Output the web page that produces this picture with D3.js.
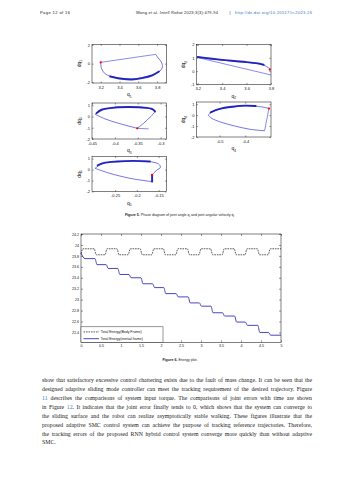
<!DOCTYPE html>
<html lang="en">
<head>
<meta charset="utf-8">
<script src="https://d3js.org/d3.v7.min.js"></script>
<style>
  body { margin: 0; background: #fff; }
  svg text { font-family: "Liberation Sans", Arial, sans-serif; }
  svg text.serif { font-family: "Liberation Serif", "DejaVu Serif", serif; }
</style>
</head>
<body>
<svg id="page" width="353" height="480"></svg>
<script>
// ---- Figure 5 data: phase trajectories (q, dq) ----
var q1Curve  = [[3.2,0.14],[3.207,-0.5],[3.243,-1.05],[3.315,-1.4],[3.42,-1.58],[3.53,-1.65],[3.636,-1.5],[3.743,-1.22],[3.83,-0.8],[3.857,-0.33],[3.843,0.2],[3.81,0.63],[3.785,1.0]];
var q1Return = [[3.785,1.0],[3.2,0.14]];
var q1Band   = [[3.3,-1.38],[3.42,-1.62],[3.53,-1.7],[3.64,-1.55],[3.75,-1.25],[3.82,-0.85]];
var q1Start  = [3.2,0.14];

var q2Curve  = [[3.2,1.05],[3.3,0.93],[3.4,0.83],[3.5,0.74],[3.6,0.66],[3.68,0.57],[3.74,0.45],[3.78,0.25],[3.82,0.0]];
var q2Return = [[3.82,-0.33],[3.2,1.02]];
var q2Band   = [[3.2,1.06],[3.3,0.95],[3.4,0.85],[3.5,0.76],[3.6,0.68],[3.68,0.6],[3.74,0.48]];
var q2Start  = [3.79,0.12];

var q3Curve  = [[-0.443,0.2],[-0.429,0.58],[-0.4,0.78],[-0.37,0.82],[-0.34,0.78],[-0.318,0.64],[-0.313,0.43],[-0.322,-0.02],[-0.337,-0.6],[-0.351,-1.05]];
var q3Return = [[-0.351,-1.05],[-0.392,-0.6],[-0.421,-0.22],[-0.443,0.2]];
var q3Tail   = [[-0.351,-1.05],[-0.326,-1.1]];
var q3Band   = [[-0.44,0.3],[-0.429,0.6],[-0.4,0.8],[-0.37,0.84],[-0.34,0.8],[-0.318,0.66],[-0.312,0.45]];
var q3Start  = [-0.351,-1.05];

var q4Curve  = [[-0.545,0.0],[-0.53,0.3],[-0.5,0.55],[-0.45,0.75],[-0.4,0.85],[-0.35,0.8],[-0.32,0.68],[-0.308,0.6]];
var q4Drop   = [[-0.308,0.6],[-0.325,-1.43]];
var q4Return = [[-0.325,-1.43],[-0.38,-1.3],[-0.44,-1.0],[-0.5,-0.6],[-0.53,-0.3],[-0.545,0.0]];
var q4Band   = [[-0.535,0.25],[-0.5,0.57],[-0.45,0.77],[-0.4,0.87],[-0.36,0.84]];
var q4Start  = [-0.308,0.6];

var q5Curve  = [[-0.296,0.12],[-0.277,0.58],[-0.246,0.72],[-0.208,0.79],[-0.169,0.72],[-0.15,0.51],[-0.146,0.21],[-0.154,-0.04],[-0.162,-0.34],[-0.165,-0.49]];
var q5Drop   = [[-0.165,-0.49],[-0.165,-1.1]];
var q5Return = [[-0.165,-1.1],[-0.215,-0.8],[-0.262,-0.34],[-0.296,0.12]];
var q5Band   = [[-0.29,0.4],[-0.277,0.6],[-0.246,0.74],[-0.208,0.8],[-0.17,0.74]];
var q5Start  = [-0.165,-0.49];

// ---- Figure 6 data: total energy ----
var energyXTicks = [0,0.5,1,1.5,2,2.5,3,3.5,4,4.5,5];
var energyYTicks = [22.4,22.6,22.8,23,23.2,23.4,23.6,23.8,24,24.2];
var bodyT = [0,0.05,0.33,0.38,0.6,0.65,0.9,0.95,1.18,1.23,1.48,1.53,1.77,1.82,2.06,2.11,2.37,2.42,2.66,2.71,2.95,3.0,3.24,3.29,3.53,3.58,3.83,3.88,4.1,4.15,4.41,4.46,4.68,4.73,5];
var bodyE = [23.84,23.93,23.93,23.82,23.82,23.93,23.93,23.82,23.82,23.93,23.93,23.82,23.82,23.93,23.93,23.82,23.82,23.93,23.93,23.82,23.82,23.93,23.93,23.82,23.82,23.93,23.93,23.82,23.82,23.93,23.93,23.82,23.82,23.93,23.93];
var inertialT = [0,0.1,0.35,0.4,0.63,0.68,0.92,0.97,1.2,1.25,1.5,1.55,1.79,1.84,2.07,2.12,2.38,2.43,2.68,2.73,2.96,3.01,3.25,3.3,3.54,3.59,3.84,3.89,4.11,4.16,4.42,4.47,4.69,4.74,5];
var inertialE = [23.85,23.75,23.75,23.64,23.64,23.57,23.57,23.46,23.46,23.4,23.4,23.29,23.29,23.22,23.22,23.11,23.11,23.05,23.05,22.94,22.94,22.88,22.88,22.76,22.76,22.7,22.7,22.59,22.59,22.53,22.53,22.4,22.4,22.35,22.35];
var legendLabels = ["Total Energy(Body Frame)", "Total Energy(inertial frame)"];

// ---- page text ----
var paragraph = [
  ["show that satisfactory excessive control chattering exists due to the fault of mass change. It can be seen that the"],
  ["designed adaptive sliding mode controller can meet the tracking requirement of the desired trajectory. Figure"],
  ["", "11", " describes the comparisons of system input torque. The comparisons of joint errors with time are shown"],
  ["in Figure ", "12", ". It indicates that the joint error finally tends to 0, which shows that the system can converge to"],
  ["the sliding surface and the robot can realize asymptotically stable walking. These figures illustrate that the"],
  ["proposed adaptive SMC control system can achieve the purpose of tracking reference trajectories. Therefore,"],
  ["the tracking errors of the proposed RNN hybrid control system converge more quickly than without adaptive"],
  ["SMC."]
];

var svg = d3.select("#page");
var blue = "#2a2ad8", darkBlue = "#1414b8";

// header
svg.append("text").attr("x", 40).attr("y", 13.6).attr("font-size", 4.1)
  .attr("textLength", 30).attr("fill", "#222").text("Page 12 of 16");
var hdr = svg.append("text").attr("x", 136).attr("y", 13.6).attr("font-size", 4)
  .attr("textLength", 82).attr("fill", "#222");
hdr.append("tspan").text("Wang et al. ");
hdr.append("tspan").attr("font-style", "italic").text("Intell Robot");
hdr.append("tspan").text(" 2023;3(3):479-94");
svg.append("text").attr("x", 229.5).attr("y", 13.6).attr("font-size", 4).attr("fill", "#222").text("|");
svg.append("text").attr("x", 235).attr("y", 13.6).attr("font-size", 4.1)
  .attr("textLength", 77).attr("fill", "#3a78c0").text("http://dx.doi.org/10.20517/ir.2023.26");

// ---- phase plots ----
var plotId = 0;
function phasePlot(b, xd, yd, xt, yt, sub, thin, straight, band, start) {
  var x = d3.scaleLinear().domain(xd).range([b[0], b[1]]);
  var y = d3.scaleLinear().domain(yd).range([b[3], b[2]]);
  var g = svg.append("g");
  var id = "clip" + (plotId++);
  g.append("clipPath").attr("id", id).append("rect")
    .attr("x", b[0]).attr("y", b[2]).attr("width", b[1] - b[0]).attr("height", b[3] - b[2]);

  var fmt = function(d) { return String(d); };
  g.append("g").attr("transform", "translate(0," + b[3] + ")")
    .call(d3.axisBottom(x).tickValues(xt).tickFormat(fmt).tickSizeInner(-1.6).tickSizeOuter(0).tickPadding(2.9));
  g.append("g").attr("transform", "translate(0," + b[2] + ")")
    .call(d3.axisTop(x).tickValues(xt).tickFormat("").tickSizeInner(-1.6).tickSizeOuter(0));
  g.append("g").attr("transform", "translate(" + b[0] + ",0)")
    .call(d3.axisLeft(y).tickValues(yt).tickFormat(fmt).tickSizeInner(-1.6).tickSizeOuter(0).tickPadding(2));
  g.append("g").attr("transform", "translate(" + b[1] + ",0)")
    .call(d3.axisRight(y).tickValues(yt).tickFormat("").tickSizeInner(-1.6).tickSizeOuter(0));
  g.selectAll(".domain").remove();
  g.selectAll(".tick line").attr("stroke", "#000").attr("stroke-width", 0.4);
  g.selectAll(".tick text").attr("font-size", 4).attr("fill", "#111")
    .style("font-family", "Liberation Sans, Arial, sans-serif");

  g.append("rect").attr("x", b[0]).attr("y", b[2]).attr("width", b[1] - b[0]).attr("height", b[3] - b[2])
    .attr("fill", "none").attr("stroke", "#000").attr("stroke-width", 0.5);

  var smooth = d3.line().x(function(d) { return x(d[0]); }).y(function(d) { return y(d[1]); })
    .curve(d3.curveCatmullRom.alpha(0.5));
  var lin = d3.line().x(function(d) { return x(d[0]); }).y(function(d) { return y(d[1]); });
  var c = g.append("g").attr("clip-path", "url(#" + id + ")").attr("fill", "none");
  thin.forEach(function(p) { c.append("path").attr("d", smooth(p)).attr("stroke", blue).attr("stroke-width", 0.65); });
  straight.forEach(function(p) { c.append("path").attr("d", lin(p)).attr("stroke", blue).attr("stroke-width", 0.55); });
  band.forEach(function(p) {
    c.append("path").attr("d", smooth(p)).attr("stroke", darkBlue).attr("stroke-width", 1.9)
      .attr("stroke-linecap", "round").attr("opacity", 0.9);
  });
  c.append("circle").attr("cx", x(start[0])).attr("cy", y(start[1])).attr("r", 1.15).attr("fill", "#f00");

  // labels
  var xl = g.append("text").attr("x", (b[0] + b[1]) / 2).attr("y", b[3] + 13.4)
    .attr("text-anchor", "middle").attr("font-size", 5).attr("fill", "#111");
  xl.append("tspan").text("q");
  xl.append("tspan").attr("font-size", 3.3).attr("dy", 1.2).text(sub);
  var cy = (b[2] + b[3]) / 2, lx = b[0] - 11.2;
  var yl = g.append("text").attr("transform", "translate(" + lx + "," + cy + ") rotate(-90)")
    .attr("text-anchor", "middle").attr("font-size", 5).attr("fill", "#111");
  yl.append("tspan").text("dq");
  yl.append("tspan").attr("font-size", 3.3).attr("dy", 1.2).text(sub);
}

phasePlot([92, 166.5, 44.3, 83], [3.107, 3.9], [-2.08, 2.08], [3.2, 3.4, 3.6, 3.8], [-2, 0, 2], "1",
  [q1Curve], [q1Return], [q1Band], q1Start);
phasePlot([196.5, 271, 44.5, 84.5], [3.19, 3.8], [-1, 2], [3.2, 3.4, 3.6, 3.8], [-1, 0, 1, 2], "2",
  [q2Curve], [q2Return], [q2Band], q2Start);
phasePlot([92, 166.5, 103, 139], [-0.45, -0.287], [-2, 1.2], [-0.45, -0.4, -0.35, -0.3], [-2, -1, 0, 1], "3",
  [q3Curve, q3Return], [q3Tail], [q3Band], q3Start);
phasePlot([196.5, 271, 102, 137], [-0.59, -0.3], [-2, 1.2], [-0.5, -0.4], [-2, -1, 0, 1], "4",
  [q4Curve, q4Return], [q4Drop], [q4Band], q4Start);
phasePlot([92, 166.5, 156.5, 191.5], [-0.303, -0.132], [-2, 1.2], [-0.25, -0.2, -0.15], [-2, -1, 0, 1], "5",
  [q5Curve, q5Return], [q5Drop], [q5Band, q5Drop], q5Start);

// caption 5
var cap5 = svg.append("text").attr("x", 180).attr("y", 216.3).attr("text-anchor", "middle")
  .attr("font-size", 3.6).attr("fill", "#222");
cap5.append("tspan").attr("font-weight", "bold").text("Figure 5.");
cap5.append("tspan").text(" Phase diagram of joint angle q");
cap5.append("tspan").attr("font-size", 2.5).attr("dy", 0.8).text("i");
cap5.append("tspan").attr("dy", -0.8).text(" and joint angular velocity q\u0307");
cap5.append("tspan").attr("font-size", 2.5).attr("dy", 0.8).text("i");
cap5.append("tspan").attr("dy", -0.8).text(".");

// ---- Figure 6: energy plot ----
var ex = d3.scaleLinear().domain([0, 5]).range([81, 281]);
var ey = d3.scaleLinear().domain([22.22, 24.2]).range([342.3, 234]);
var eg = svg.append("g");
var efmt = function(d) { return String(d); };
eg.append("g").attr("transform", "translate(0,342.3)")
  .call(d3.axisBottom(ex).tickValues(energyXTicks).tickFormat(efmt).tickSizeInner(-2).tickSizeOuter(0).tickPadding(2.6));
eg.append("g").attr("transform", "translate(0,234)")
  .call(d3.axisTop(ex).tickValues(energyXTicks).tickFormat("").tickSizeInner(-2).tickSizeOuter(0));
eg.append("g").attr("transform", "translate(81,0)")
  .call(d3.axisLeft(ey).tickValues(energyYTicks).tickFormat(efmt).tickSizeInner(-2).tickSizeOuter(0).tickPadding(2));
eg.append("g").attr("transform", "translate(281,0)")
  .call(d3.axisRight(ey).tickValues(energyYTicks).tickFormat("").tickSizeInner(-2).tickSizeOuter(0));
eg.selectAll(".domain").remove();
eg.selectAll(".tick line").attr("stroke", "#000").attr("stroke-width", 0.4);
eg.selectAll(".tick text").attr("font-size", 3.6).attr("fill", "#111")
  .style("font-family", "Liberation Sans, Arial, sans-serif");
eg.append("rect").attr("x", 81).attr("y", 234).attr("width", 200).attr("height", 108.3)
  .attr("fill", "none").attr("stroke", "#000").attr("stroke-width", 0.5);

var eLine = d3.line().x(function(d) { return ex(d[0]); }).y(function(d) { return ey(d[1]); })
  .curve(d3.curveMonotoneX);
var bodyPts = bodyT.map(function(t, i) { return [t, bodyE[i]]; });
var inertialPts = inertialT.map(function(t, i) { return [t, inertialE[i]]; });
eg.append("path").attr("d", eLine(bodyPts)).attr("fill", "none")
  .attr("stroke", "#111").attr("stroke-width", 0.7).attr("stroke-dasharray", "1.6,0.9");
eg.append("path").attr("d", eLine(inertialPts)).attr("fill", "none")
  .attr("stroke", "#3333b3").attr("stroke-width", 0.9);

// legend
var lg = eg.append("g");
lg.append("rect").attr("x", 81).attr("y", 326.8).attr("width", 82).attr("height", 15.5)
  .attr("fill", "#fff").attr("stroke", "#333").attr("stroke-width", 0.5);
legendLabels.forEach(function(l, i) {
  var yy = 331.9 + i * 6.8;
  lg.append("line").attr("x1", 83.5).attr("x2", 99).attr("y1", yy).attr("y2", yy)
    .attr("stroke", i === 0 ? "#111" : "#3333b3").attr("stroke-width", i === 0 ? 0.7 : 0.9)
    .attr("stroke-dasharray", i === 0 ? "1.6,0.9" : null);
  lg.append("text").attr("x", 100.8).attr("y", yy + 1.3).attr("font-size", 3.5).attr("fill", "#111").text(l);
});

// caption 6
var cap6 = svg.append("text").attr("x", 180).attr("y", 361.3).attr("text-anchor", "middle")
  .attr("font-size", 3.6).attr("fill", "#222");
cap6.append("tspan").attr("font-weight", "bold").text("Figure 6.");
cap6.append("tspan").text(" Energy plot.");

// ---- body text, justified ----
paragraph.forEach(function(parts, i) {
  var t = svg.append("text").attr("class", "serif").attr("x", 42).attr("y", 382.4 + i * 8.85)
    .attr("font-size", 5.8).attr("fill", "#1a1a1a");
  parts.forEach(function(s, j) {
    var sp = t.append("tspan").text(s);
    if (j === 1) sp.attr("fill", "#3a78c0");
  });
  if (i < paragraph.length - 1) {
    var full = parts.join("");
    var w = t.node().getComputedTextLength();
    var n = (full.match(/ /g) || []).length;
    if (n > 0) t.attr("word-spacing", (270 - w) / n);
  }
});
</script>
</body>
</html>
